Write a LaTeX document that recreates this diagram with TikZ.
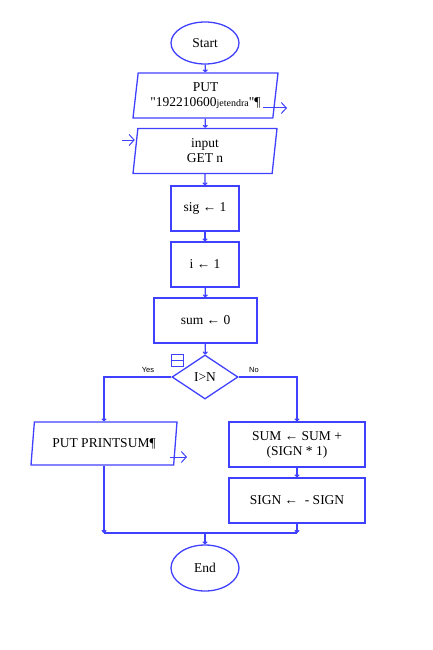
\documentclass[tikz,border=0pt]{standalone}
\usepackage{fontspec}
\setmainfont{Liberation Serif}[Ligatures=TeXOff]
\newfontfamily\flagfont{Liberation Sans}
\usetikzlibrary{arrows.meta}
\usetikzlibrary{positioning}
\usetikzlibrary{shapes.geometric}
\definecolor{fblue}{rgb}{0.25, 0.25, 1}
\tikzset{term/.style = {draw=fblue, line width=1.3pt, ellipse, minimum width = 68pt,
                        minimum height = 42pt, font=\fontsize{13.5}{15}\selectfont}}
\tikzset{proc/.style = {draw=fblue, line width=1.3pt, rectangle, minimum height = 45pt,
                        align=center, font=\fontsize{13.5}{15}\selectfont}}
\tikzset{io/.style = {draw=fblue, line width=1.3pt, trapezium, trapezium left angle = 81,
                      trapezium right angle = 99, trapezium stretches body,
                      minimum height = 45pt, align=center, font=\fontsize{13.5}{15}\selectfont}}
\tikzset{cond/.style = {draw=fblue, line width=1.3pt, diamond, aspect=1.5, minimum width = 66pt,
                        minimum height = 44pt, inner sep=0, font=\fontsize{13.5}{15}\selectfont}}
\tikzset{flow/.style = {draw=fblue, line width=1.3pt, -{To[length=3pt, width=5pt]}}}
\tikzset{sideout/.style = {draw=fblue, line width=1pt, -{Straight Barb[length=5pt, width=11pt]}}}
\tikzset{flag/.style = {font=\flagfont\fontsize{7.5}{9}\selectfont, inner sep=0}}

\begin{document}
\begin{tikzpicture}[x=1pt, y=-1pt]
    \useasboundingbox (0, 0) rectangle (432, 650);

    \node (start) [term] at (205, 43) {Start};
    \node (put) [io, minimum width = 145pt] at (205.5, 95.5)
        {PUT\\"192210600{\fontsize{10}{11}\selectfont jetendra}"¶};
    \node (input) [io, minimum width = 144pt] at (205, 151) {input\\GET n};
    \node (sig) [proc, minimum width = 68pt] at (205, 208.5) {sig ← 1};
    \node (i) [proc, minimum width = 68pt] at (205, 264.5) {i ← 1};
    \node (sum) [proc, minimum width = 103pt] at (205.5, 320.5) {sum ← 0};
    \node (test) [cond] at (205, 377) {I>N};
    \node (print) [io, minimum width = 146pt, minimum height = 43pt,
                   trapezium left angle = 79, trapezium right angle = 101] at (104, 443.5)
        {PUT PRINTSUM¶};
    \node (add) [proc, minimum width = 136pt] at (297, 444.5) {SUM ← SUM +\\(SIGN * 1)};
    \node (flip) [proc, minimum width = 136pt] at (297, 500.5) {SIGN ←\ \ - SIGN};
    \node (end) [term, minimum height = 46pt] at (205, 568) {End};

    \node (yes) [flag] at (148, 370) {Yes};
    \node (no) [flag] at (254, 370) {No};

    \coordinate (join) at (205, 533);
    \coordinate (putout) at (287, 108);
    \coordinate (getin) at (122, 140);
    \coordinate (printout) at (187, 457);

    \draw [flow] (start) -- (put);
    \draw [flow] (put) -- (input);
    \draw [flow] (input) -- (sig);
    \draw [flow] (sig) -- (i);
    \draw [flow] (i) -- (sum);
    \draw [flow] (sum) -- (test);
    \draw [flow] (test.west) -| (print.north);
    \draw [flow] (test.east) -| (add.north);
    \draw [flow] (add) -- (flip);
    \draw [flow] (print.south) -- (print.south |- join);
    \draw [flow] (flip.south) -- (flip.south |- join);
    \draw [fblue, line width=1.3pt] (print.south |- join) -- (flip.south |- join);
    \draw [flow] (join) -- (end);

    \draw [sideout] (putout) ++(-24, 0) -- (putout);
    \draw [sideout] (getin) -- (getin -| input.west);
    \draw [sideout] (printout) ++(-17, 0) -- (printout);

    \draw [fblue, line width=1pt] (171, 354) rectangle (183, 366);
    \draw [fblue, line width=1pt] (171, 360) -- (183, 360);
\end{tikzpicture}
\end{document}
